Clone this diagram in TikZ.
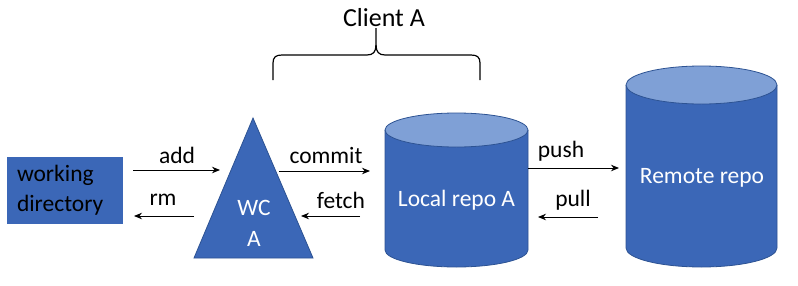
\documentclass[tikz,border=0pt]{standalone}
\usepackage{fontspec}
\setmainfont{Carlito}
\usetikzlibrary{arrows.meta}
\definecolor{repoblue}{HTML}{3B67B7}
\definecolor{repotop}{HTML}{7FA0D6}
\definecolor{repoline}{HTML}{2D5393}
\tikzset{
  lbl/.style={font=\fontsize{23.5}{28}\selectfont, inner sep=0pt, anchor=center},
  inner/.style={lbl, text=white, align=center},
  arr/.style={line width=1pt, -{Stealth[length=8pt,width=6.5pt]}},
  bluefill/.style={fill=repoblue, draw=repoline, line width=0.8pt},
  topfill/.style={fill=repotop, draw=repoline, line width=0.8pt},
}
\begin{document}
\begin{tikzpicture}[x=1pt,y=1pt]
  \useasboundingbox (0,0) rectangle (798,285);

  % working directory
  \node[fill=repoblue, minimum width=116pt, minimum height=67pt, inner xsep=10pt,
        text width=96pt, align=left, font=\fontsize{23.5}{30}\selectfont]
        (wd) at (65,94.5) {working\\directory};

  % working copy triangle
  \coordinate (wcapex) at (253,167);
  \coordinate (wcleft) at (194,27);
  \coordinate (wcright) at (313,27);
  \draw[bluefill] (wcapex) -- (wcright) -- (wcleft) -- cycle;
  \node[inner, font=\fontsize{23.5}{31}\selectfont] (wc) at (254,61.5) {WC\\A};

  % local repository cylinder
  \fill[repoblue] (385,155) -- (385,35)
     arc[start angle=180, end angle=360, x radius=71.5pt, y radius=17pt] -- (528,155) -- cycle;
  \draw[repoline, line width=0.8pt] (385,155) -- (385,35)
     arc[start angle=180, end angle=360, x radius=71.5pt, y radius=17pt] -- (528,155);
  \draw[topfill] (456.5,155) ellipse[x radius=71.5pt, y radius=17pt];
  \node[inner] (local) at (456.5,85) {Local repo A};

  % remote repository cylinder
  \fill[repoblue] (626,200) -- (626,37)
     arc[start angle=180, end angle=360, x radius=75.5pt, y radius=19pt] -- (777,200) -- cycle;
  \draw[repoline, line width=0.8pt] (626,200) -- (626,37)
     arc[start angle=180, end angle=360, x radius=75.5pt, y radius=19pt] -- (777,200);
  \draw[topfill] (701.5,200) ellipse[x radius=75.5pt, y radius=19pt];
  \node[inner] (remote) at (702,107) {Remote repo};

  % arrow end points
  \coordinate (addS) at (133,115);   \coordinate (addE) at (220,115);
  \coordinate (rmS) at (194,69);     \coordinate (rmE) at (134,69);
  \coordinate (comS) at (279,114);   \coordinate (comE) at (370,114);
  \coordinate (fetS) at (360,69);    \coordinate (fetE) at (301,69);
  \coordinate (pushS) at (528,117);  \coordinate (pushE) at (619,117);
  \coordinate (pullS) at (598,68);   \coordinate (pullE) at (538,68);

  \draw[arr] (addS) -- (addE);
  \draw[arr] (rmS) -- (rmE);
  \draw[arr] (comS) -- (comE);
  \draw[arr] (fetS) -- (fetE);
  \draw[arr] (pushS) -- (pushE);
  \draw[arr] (pullS) -- (pullE);

  \node[lbl] (ladd) at (177,130) {add};
  \node[lbl] (lrm) at (163,85) {rm};
  \node[lbl] (lcommit) at (326,130) {commit};
  \node[lbl] (lfetch) at (341,85) {fetch};
  \node[lbl] (lpush) at (561,134) {push};
  \node[lbl] (lpull) at (573,85) {pull};

  % client brace
  \draw[line width=1.2pt]
    (273,205) -- (273,222) .. controls (273,228) and (276,230) .. (282,230)
    -- (367,230) .. controls (373,230) and (376,233) .. (376,240) -- (376,257);
  \draw[line width=1.2pt]
    (480,205) -- (480,222) .. controls (480,228) and (477,230) .. (471,230)
    -- (385,230) .. controls (379,230) and (376,233) .. (376,240);
  \node[font=\fontsize{26}{30}\selectfont, inner sep=0pt] (client) at (384,267) {Client A};
\end{tikzpicture}
\end{document}
